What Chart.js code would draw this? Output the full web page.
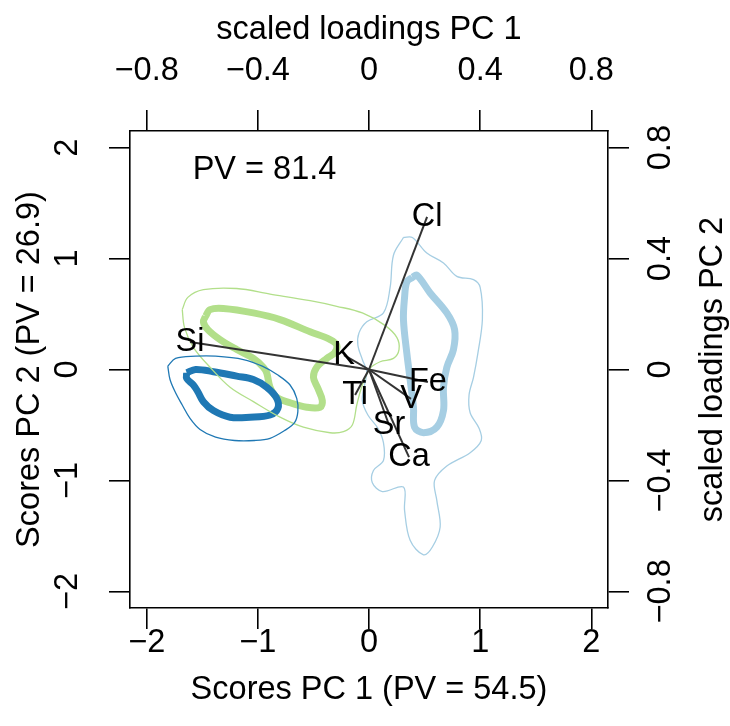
<!DOCTYPE html>
<html>
<head>
<meta charset="utf-8">
<script src="https://cdn.jsdelivr.net/npm/chart.js@4.4.1/dist/chart.umd.min.js"></script>
<style>
  html, body { margin: 0; padding: 0; background: #fff; }
</style>
</head>
<body>
<canvas id="biplot" width="730" height="726"></canvas>
<script>
// tick values
const scoreTicks = [-2, -1, 0, 1, 2];
const loadTicks = [-0.8, -0.4, 0, 0.4, 0.8];

// density contours of the scores (PC1, PC2)
const darkBlueInner = [[-1.64,-0.03],[-1.56,0.00],[-1.40,-0.02],[-1.19,-0.06],[-1.04,-0.09],[-0.92,-0.16],
  [-0.83,-0.26],[-0.82,-0.35],[-0.89,-0.41],[-1.07,-0.43],[-1.25,-0.43],[-1.40,-0.37],[-1.49,-0.29],
  [-1.54,-0.20],[-1.58,-0.14],[-1.64,-0.08]];
const darkBlueOuter = [[-1.81,0.03],[-1.74,0.10],[-1.56,0.12],[-1.38,0.12],[-1.13,0.09],[-0.96,0.03],
  [-0.82,-0.05],[-0.71,-0.14],[-0.65,-0.26],[-0.64,-0.38],[-0.67,-0.48],[-0.76,-0.55],[-0.89,-0.62],
  [-1.03,-0.64],[-1.21,-0.64],[-1.38,-0.61],[-1.52,-0.54],[-1.61,-0.44],[-1.68,-0.32],[-1.74,-0.21],[-1.79,-0.09]];
const greenInner = [[-1.47,0.48],[-1.43,0.54],[-1.31,0.55],[-1.04,0.51],[-0.80,0.45],[-0.53,0.34],[-0.35,0.27],
  [-0.29,0.22],[-0.31,0.15],[-0.38,0.10],[-0.47,0.02],[-0.50,-0.07],[-0.46,-0.17],[-0.42,-0.28],[-0.44,-0.34],
  [-0.56,-0.34],[-0.71,-0.30],[-0.83,-0.25],[-0.89,-0.16],[-0.92,-0.03],[-0.95,0.02],[-1.04,0.10],
  [-1.19,0.18],[-1.34,0.27],[-1.45,0.36],[-1.49,0.43]];
const greenOuter = [[-1.68,0.54],[-1.63,0.65],[-1.49,0.72],[-1.19,0.73],[-0.89,0.68],[-0.53,0.62],[-0.29,0.57],
  [-0.06,0.51],[0.14,0.40],[0.25,0.29],[0.27,0.18],[0.22,0.10],[0.10,0.07],[0.01,0.01],[-0.06,-0.14],
  [-0.11,-0.32],[-0.15,-0.50],[-0.23,-0.56],[-0.35,-0.57],[-0.59,-0.52],[-0.80,-0.43],[-1.04,-0.29],
  [-1.25,-0.16],[-1.43,0.02],[-1.58,0.20],[-1.66,0.38]];
const lightBlueInner = [[0.39,0.83],[0.43,0.85],[0.55,0.69],[0.70,0.51],[0.77,0.36],[0.76,0.18],[0.70,0.02],
  [0.67,-0.16],[0.67,-0.37],[0.61,-0.52],[0.49,-0.57],[0.41,-0.52],[0.40,-0.34],[0.37,-0.09],[0.34,0.15],
  [0.31,0.45],[0.32,0.65],[0.34,0.79]];
const lightBlueOuter = [[0.31,1.19],[0.39,1.19],[0.52,1.05],[0.67,0.96],[0.79,0.84],[0.94,0.81],[1.00,0.74],
  [1.02,0.45],[0.98,0.15],[0.94,-0.07],[0.90,-0.23],[0.91,-0.39],[0.99,-0.53],[1.01,-0.64],[0.91,-0.75],
  [0.70,-0.87],[0.59,-1.00],[0.61,-1.18],[0.64,-1.42],[0.57,-1.60],[0.49,-1.67],[0.37,-1.54],[0.32,-1.27],
  [0.31,-1.06],[0.12,-1.10],[0.03,-1.02],[0.04,-0.91],[0.13,-0.82],[0.13,-0.66],[0.08,-0.53],[-0.01,-0.41],
  [-0.06,-0.28],[-0.04,-0.14],[-0.02,-0.02],[-0.06,0.09],[-0.10,0.22],[-0.09,0.33],[-0.02,0.43],
  [0.13,0.51],[0.19,0.74],[0.22,1.03]];

// scaled loadings
const loadNames = ["Cl", "Si", "K", "Ti", "Fe", "V", "Sr", "Ca"];
const loadX = [0.209, -0.644, -0.090, -0.050, 0.212, 0.151, 0.072, 0.144];
const loadY = [0.550, 0.099, 0.052, -0.092, -0.045, -0.106, -0.200, -0.316];

const pvText = "PV = 81.4";
const pvPos = [-0.94, 1.80];

const FONT = '"Liberation Sans", Arial, sans-serif';
const FSIZE = 32.5;

function fmt(v) {
  let s = Number.isInteger(v) ? String(v) : v.toFixed(1);
  if (v === 0) s = "0";
  return s.replace("-", "\u2212");
}

function closed(pts) {
  const d = pts.map(p => ({x: p[0], y: p[1]}));
  d.push({x: pts[0][0], y: pts[0][1]});
  return d;
}

function contour(pts, color, width) {
  return {
    data: closed(pts),
    borderColor: color,
    borderWidth: width,
    showLine: true,
    pointRadius: 0,
    tension: 0.35,
    xAxisID: "x",
    yAxisID: "y",
    order: 2
  };
}

const datasets = [
  contour(darkBlueOuter, "#1f78b4", 1.3),
  contour(greenOuter, "#b2df8a", 1.3),
  contour(lightBlueOuter, "#a6cee3", 1.3),
  contour(darkBlueInner, "#1f78b4", 7),
  contour(greenInner, "#b2df8a", 7),
  contour(lightBlueInner, "#a6cee3", 7)
];

loadNames.forEach((n, i) => {
  datasets.push({
    data: [{x: 0, y: 0}, {x: loadX[i], y: loadY[i]}],
    borderColor: "#333333",
    borderWidth: 2,
    showLine: true,
    pointRadius: 0,
    xAxisID: "x2",
    yAxisID: "y2",
    order: 1
  });
});

// tick label padding per side
const tickPad = {left: 22, right: 0, top: 23, bottom: -2};

function axis(pos, lim, ticks, title, size) {
  const vertical = pos === "left" || pos === "right";
  return {
    type: "linear",
    axis: vertical ? "y" : "x",
    position: pos,
    min: -lim,
    max: lim,
    afterBuildTicks: s => { s.ticks = ticks.map(v => ({value: v})); },
    afterFit: s => { if (vertical) s.width = size; else s.height = size; },
    ticks: {
      color: "#000",
      font: {family: FONT, size: FSIZE, lineHeight: 1},
      padding: tickPad[pos],
      autoSkip: false,
      minRotation: vertical ? 90 : 0,
      maxRotation: vertical ? 90 : 0,
      crossAlign: vertical ? "center" : "near",
      callback: v => fmt(v)
    },
    grid: {
      drawOnChartArea: false,
      drawTicks: true,
      tickLength: 21,
      color: "#000",
      lineWidth: 1.6
    },
    border: {display: true, color: "#000", width: 1.6},
    title: {
      display: title !== "",
      text: title,
      color: "#000",
      font: {family: FONT, size: FSIZE, lineHeight: 1},
      padding: pos === "bottom" ? {top: 0, bottom: 20} : {top: 14, bottom: 0}
    }
  };
}

const textPlugin = {
  id: "biplotText",
  afterDatasetsDraw(chart) {
    const {ctx, scales, chartArea} = chart;
    ctx.save();
    ctx.fillStyle = "#000";
    ctx.font = FSIZE + "px " + FONT;
    ctx.textAlign = "center";
    ctx.textBaseline = "middle";
    loadNames.forEach((n, i) => {
      ctx.fillText(n, scales.x2.getPixelForValue(loadX[i]), scales.y2.getPixelForValue(loadY[i]));
    });
    ctx.fillText(pvText, scales.x.getPixelForValue(pvPos[0]), scales.y.getPixelForValue(pvPos[1]));
    // right axis title reads bottom to top
    ctx.translate(713, (chartArea.top + chartArea.bottom) / 2);
    ctx.rotate(-Math.PI / 2);
    ctx.fillText("scaled loadings PC 2", 0, 0);
    ctx.restore();
  }
};

new Chart(document.getElementById("biplot"), {
  type: "scatter",
  data: {datasets: datasets},
  options: {
    responsive: false,
    animation: false,
    devicePixelRatio: 1,
    layout: {padding: 0},
    plugins: {legend: {display: false}, tooltip: {enabled: false}},
    scales: {
      x: axis("bottom", 2.15, scoreTicks, "Scores PC 1 (PV = 54.5)", 118),
      x2: axis("top", 0.86, loadTicks, "scaled loadings PC 1", 131),
      y: axis("left", 2.15, scoreTicks, "Scores PC 2 (PV = 26.9)", 130),
      y2: axis("right", 0.86, loadTicks, "", 122)
    }
  },
  plugins: [textPlugin]
});
</script>
</body>
</html>
